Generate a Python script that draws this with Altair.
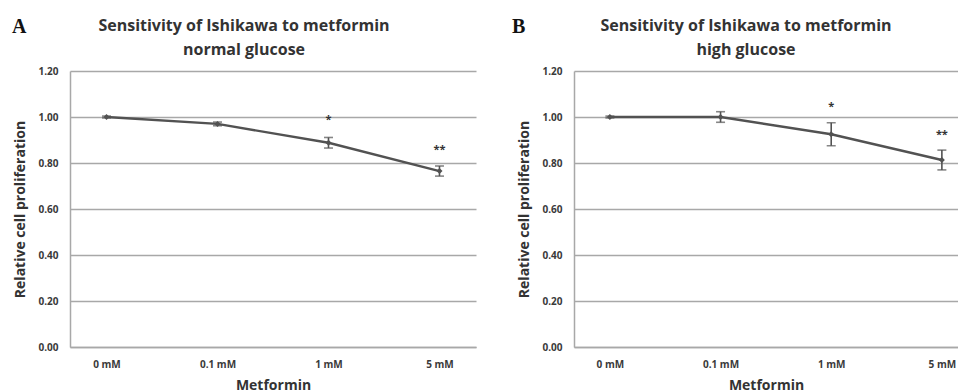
import altair as alt
import pandas as pd

doses = ["0 mM", "0.1 mM", "1 mM", "5 mM"]
normal_mean = [1.00, 0.97, 0.888, 0.765]
normal_err = [0.004, 0.008, 0.023, 0.022]
normal_sig = ["", "", "*", "**"]
normal_sig_y = [1.0, 1.0, 0.975, 0.845]
high_mean = [1.00, 1.00, 0.925, 0.813]
high_err = [0.004, 0.023, 0.05, 0.043]
high_sig = ["", "", "*", "**"]
high_sig_y = [1.0, 1.0, 1.030, 0.907]
y_ticks = [0.0, 0.2, 0.4, 0.6, 0.8, 1.0, 1.2]
title_main = "Sensitivity of Ishikawa to metformin"

FONT = "Open Sans"
LINE = "#525252"
GRID = "#a8a8a8"


def panel(mean, err, sig, sig_y, subtitle, letter, width, padding, align, title_x, letter_x):
    df = pd.DataFrame({
        "dose": doses,
        "mean": mean,
        "lo": [m - e for m, e in zip(mean, err)],
        "hi": [m + e for m, e in zip(mean, err)],
        "sig": sig,
        "sig_y": sig_y,
    })
    x = alt.X("dose:N", sort=doses,
              scale=alt.Scale(type="point", padding=padding, align=align),
              axis=alt.Axis(title="Metformin", labelAngle=0, ticks=False,
                            domainColor=GRID, domainWidth=1.5, labelPadding=12,
                            titlePadding=9))
    y_scale = alt.Scale(domain=[0, 1.2], nice=False, zero=True)
    base = alt.Chart(df)
    line = base.mark_line(color=LINE, strokeWidth=2.4).encode(
        x=x,
        y=alt.Y("mean:Q", scale=y_scale,
                axis=alt.Axis(title="Relative cell proliferation", values=y_ticks,
                              format=".2f", ticks=False, domainColor=GRID,
                              domainWidth=1.5, gridColor=GRID, gridWidth=1.5,
                              labelPadding=12, titlePadding=10)),
    )
    xs = alt.X("dose:N", sort=doses)
    pts = base.mark_point(shape="diamond", filled=True, size=36, color=LINE, opacity=1).encode(
        x=xs, y="mean:Q")
    rule = base.mark_rule(color=LINE, strokeWidth=1.6).encode(x=xs, y="lo:Q", y2="hi:Q")
    cap_lo = base.mark_tick(color=LINE, size=9, thickness=1.6).encode(x=xs, y="lo:Q")
    cap_hi = base.mark_tick(color=LINE, size=9, thickness=1.6).encode(x=xs, y="hi:Q")
    stars = base.mark_text(font=FONT, fontSize=11, fontWeight="bold", color="#333",
                           baseline="alphabetic").encode(x=xs, y="sig_y:Q", text="sig:N")
    lab = alt.Chart(pd.DataFrame({"t": [letter]})).mark_text(
        font="Liberation Serif", fontSize=20, fontWeight="bold", color="#111",
        align="left", baseline="alphabetic").encode(
        x=alt.value(letter_x), y=alt.value(-38), text="t:N")
    t1 = alt.Chart(pd.DataFrame({"t": [title_main]})).mark_text(
        font=FONT, fontSize=16, fontWeight="bold", color="#333",
        align="center", baseline="top").encode(
        x=alt.value(title_x), y=alt.value(-53), text="t:N")
    t2 = alt.Chart(pd.DataFrame({"t": [subtitle]})).mark_text(
        font=FONT, fontSize=16, fontWeight="bold", color="#333",
        align="center", baseline="top").encode(
        x=alt.value(title_x), y=alt.value(-29), text="t:N")
    return alt.layer(line, rule, cap_lo, cap_hi, pts, stars, lab, t1, t2).properties(
        width=width, height=276)


a = panel(normal_mean, normal_err, normal_sig, normal_sig_y, "normal glucose", "A",
          406, 0.329, 0.5, 174, -58)
b = panel(high_mean, high_err, high_sig, high_sig_y, "high glucose", "B",
          384, 0.235, 0.69, 172, -62)

chart = alt.hconcat(a, b, spacing=36).configure(
    font=FONT, padding={"left": 4, "top": 9, "right": 0, "bottom": 0},
).configure_view(stroke=None).configure_axis(
    labelFont=FONT, labelFontSize=10, labelFontWeight="bold", labelColor="#3a3a3a",
    titleFont=FONT, titleFontSize=14, titleFontWeight="bold", titleColor="#333",
)

chart.save("out.html", embed_options={"renderer": "svg", "actions": False})
